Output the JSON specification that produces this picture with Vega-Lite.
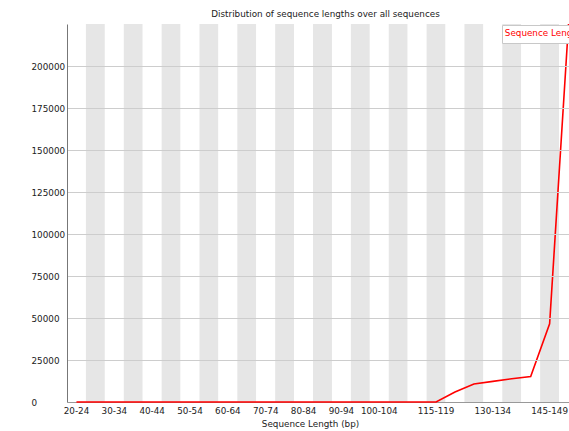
{
  "$schema": "https://vega.github.io/schema/vega-lite/v6.json",
  "autosize": "none",
  "width": 511,
  "height": 378,
  "padding": {"left": 67, "top": 24, "right": 0, "bottom": 29},
  "background": "white",
  "config": {"view": {"stroke": null}, "font": "DejaVu Sans"},
  "title": {
    "text": "Distribution of sequence lengths over all sequences",
    "font": "DejaVu Sans",
    "fontSize": 8.8,
    "fontWeight": "normal",
    "color": "#222222",
    "anchor": "middle",
    "dx": 3,
    "dy": 11,
    "offset": 6,
    "baseline": "alphabetic"
  },
  "data": {
    "values": [
      {"length": "20-24", "count": 0},
      {"length": "25-29", "count": 0},
      {"length": "30-34", "count": 0},
      {"length": "35-39", "count": 0},
      {"length": "40-44", "count": 0},
      {"length": "45-49", "count": 0},
      {"length": "50-54", "count": 0},
      {"length": "55-59", "count": 0},
      {"length": "60-64", "count": 0},
      {"length": "65-69", "count": 0},
      {"length": "70-74", "count": 0},
      {"length": "75-79", "count": 0},
      {"length": "80-84", "count": 0},
      {"length": "85-89", "count": 0},
      {"length": "90-94", "count": 0},
      {"length": "95-99", "count": 0},
      {"length": "100-104", "count": 0},
      {"length": "105-109", "count": 0},
      {"length": "110-114", "count": 0},
      {"length": "115-119", "count": 0},
      {"length": "120-124", "count": 6000},
      {"length": "125-129", "count": 10700},
      {"length": "130-134", "count": 12300},
      {"length": "135-139", "count": 13800},
      {"length": "140-144", "count": 15200},
      {"length": "145-149", "count": 46500},
      {"length": "150-151", "count": 225000}
    ]
  },
  "transform": [{"window": [{"op": "row_number", "as": "n"}]}],
  "layer": [
    {
      "mark": {"type": "rect"},
      "encoding": {
        "x": {
          "field": "length",
          "type": "ordinal",
          "sort": null,
          "scale": {"paddingInner": 0, "paddingOuter": 0},
          "axis": {
            "title": "Sequence Length (bp)",
            "labelExpr": "indexof(['20-24', '30-34', '40-44', '50-54', '60-64', '70-74', '80-84', '90-94', '100-104', '115-119', '130-134', '145-149'], datum.value) >= 0 ? datum.label : ''",
            "ticks": false,
            "tickSize": 0,
            "labelAngle": 0,
            "labelOverlap": false,
            "labelFlush": false,
            "labelBound": false,
            "labelFontSize": 8.8,
            "labelColor": "#222222",
            "labelPadding": 4,
            "domainColor": "#999999",
            "titleFontSize": 8.8,
            "titleFontWeight": "normal",
            "titleColor": "#222222",
            "titleX": 243,
            "titleY": 21,
            "titleAlign": "center",
            "titleBaseline": "middle",
            "grid": false,
            "zindex": 0
          }
        },
        "y": {"datum": 0, "type": "quantitative"},
        "y2": {"datum": 225000},
        "fill": {
          "condition": {"test": "datum.n % 2 == 0", "value": "#e6e6e6"},
          "value": "#ffffff"
        }
      }
    },
    {
      "mark": {"type": "line", "strokeWidth": 1.6},
      "encoding": {
        "x": {"field": "length", "type": "ordinal", "sort": null},
        "y": {
          "field": "count",
          "type": "quantitative",
          "scale": {"domain": [0, 225000], "nice": false, "zero": true},
          "axis": {
            "title": null,
            "values": [0, 25000, 50000, 75000, 100000, 125000, 150000, 175000, 200000],
            "format": "d",
            "grid": true,
            "gridColor": {"condition": {"test": "datum.value === 0", "value": "transparent"}, "value": "#cdcdcd"},
            "ticks": false,
            "tickSize": 0,
            "labelAlign": "left",
            "labelBaseline": "middle",
            "labelPadding": 36,
            "labelFontSize": 8.8,
            "labelColor": "#222222",
            "domainColor": "#777777",
            "zindex": 1
          }
        },
        "color": {
          "datum": "Sequence Length",
          "scale": {"range": ["#ff0000"]},
          "legend": {
            "orient": "none",
            "legendX": 435,
            "legendY": 1,
            "title": null,
            "symbolSize": 0,
            "symbolStrokeWidth": 0,
            "symbolOpacity": 0,
            "labelColor": "#ff0000",
            "labelFontSize": 8.8,
            "labelOffset": -10,
            "labelLimit": 0,
            "padding": 4,
            "fillColor": "#ffffff",
            "strokeColor": "#c8c8c8"
          }
        }
      }
    }
  ]
}
